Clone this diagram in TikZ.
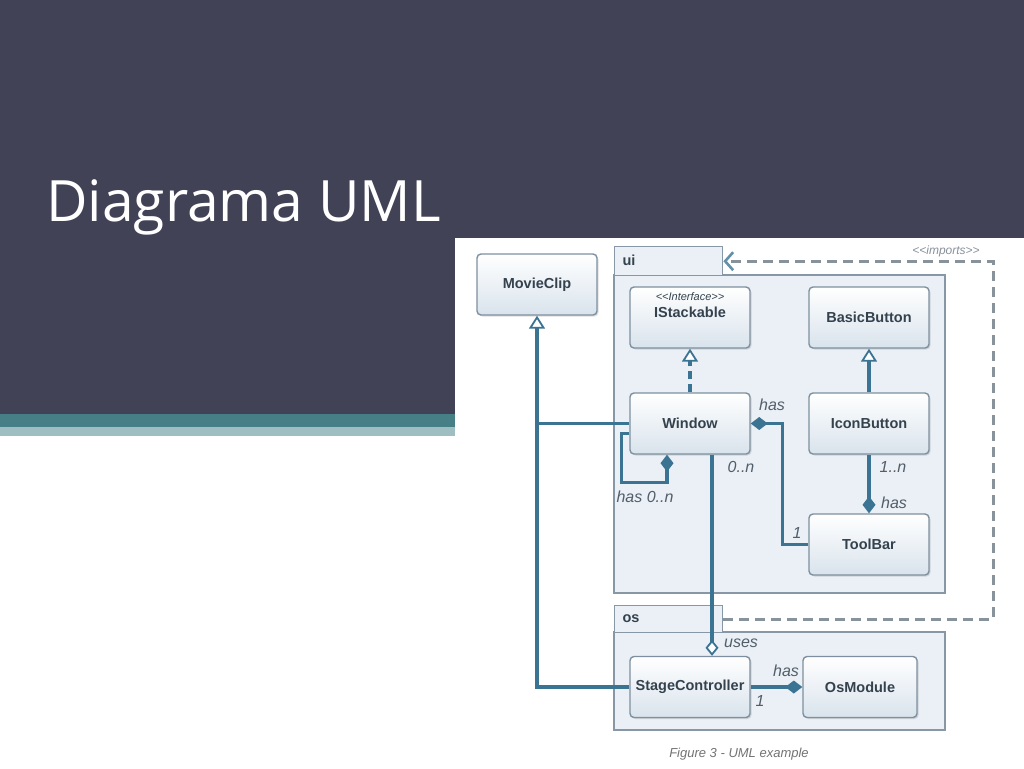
\documentclass[tikz,border=0pt]{standalone}
\usepackage{fontspec}
\setmainfont{Liberation Sans}
\newfontfamily\titlefont{Open Sans}
\usetikzlibrary{arrows.meta,shadows}
\definecolor{darkbg}{HTML}{424257}
\definecolor{tealA}{HTML}{477F87}
\definecolor{tealB}{HTML}{9FBEC1}
\definecolor{umlline}{HTML}{3B7393}
\definecolor{boxborder}{HTML}{7E90A0}
\definecolor{boxbot}{HTML}{D9E3EC}
\definecolor{pkgfill}{HTML}{EAF0F5}
\definecolor{pkgborder}{HTML}{8797A5}
\definecolor{txt}{HTML}{34424E}
\definecolor{deps}{HTML}{88929B}
\tikzset{
  cls/.style={draw=boxborder, line width=1.4pt, rounded corners=4pt,
    top color=white, bottom color=boxbot, minimum width=120pt, minimum height=61pt,
    font=\bfseries\fontsize{14.5}{16}\selectfont, text=txt,
    drop shadow={shadow xshift=1.5pt, shadow yshift=-1.5pt, opacity=0.25}},
  pkg/.style={draw=pkgborder, line width=1.4pt, fill=pkgfill},
  umlconn/.style={draw=umlline, line width=3.2pt},
  opentri/.style={-{Triangle[open, length=13pt, width=16pt, line width=1.8pt, fill=white]}},
  gen/.style={umlconn, opentri},
  compo/.style={umlconn, -{Diamond[length=17pt, width=13pt]}},
  aggr/.style={umlconn, -{Diamond[open, length=16pt, width=13pt, line width=1.8pt, fill=white]}},
  lbl/.style={font=\itshape\fontsize{16}{18}\selectfont, text=txt!85},
  dep/.style={draw=deps, line width=3pt, dash pattern=on 10pt off 6pt},
}
\begin{document}
\begin{tikzpicture}[x=1pt,y=-1pt]
\useasboundingbox (0,0) rectangle (1024,768);
% background
\fill[white] (0,0) rectangle (1024,768);
\fill[darkbg] (0,0) rectangle (1024,238);
\fill[darkbg] (0,238) rectangle (455,414);
\fill[tealA] (0,414) rectangle (455,427);
\fill[tealB] (0,427) rectangle (455,436);
\node[anchor=base west, text=white, font=\titlefont\fontsize{57}{66}\selectfont, inner sep=0] (title) at (46,221) {Diagrama UML};

% packages
\draw[pkg] (614,275) rectangle (945,593);
\node[pkg, anchor=north west, minimum width=108pt, minimum height=29pt, inner sep=0] (uitab) at (614,246) {};
\node[anchor=west, font=\bfseries\fontsize{14.5}{16}\selectfont, text=txt] (uilbl) at (619,260.5) {ui};
\draw[pkg] (614,632) rectangle (945,730);
\node[pkg, anchor=north west, minimum width=108pt, minimum height=27pt, inner sep=0] (ostab) at (614,605) {};
\node[anchor=west, font=\bfseries\fontsize{14.5}{16}\selectfont, text=txt] (oslbl) at (619,618.5) {os};

% classes
\node[cls] (mc) at (537,284.5) {MovieClip};
\node[cls, align=center] (ist) at (690,317.5) {{\fontsize{11}{12}\mdseries\itshape {<}{<}Interface{>}{>}}\\[1pt]IStackable\\[8pt]};
\node[cls] (bb) at (869,317.5) {BasicButton};
\node[cls] (win) at (690,423.5) {Window};
\node[cls] (ib) at (869,423.5) {IconButton};
\node[cls] (tb) at (869,544.5) {ToolBar};
\node[cls] (sc) at (690,687) {StageController};
\node[cls, minimum width=114pt] (osm) at (860,687) {OsModule};

% dependency imports
\draw[dep, -{Straight Barb[length=8pt, width=18pt, line width=2.6pt, umlline!80]}] (ostab.east) -- ++(270,0) |- (uitab.east);
\node[font=\itshape\fontsize{12}{14}\selectfont, text=deps] (implbl) at (946,251) {{<}{<}imports{>}{>}};

% connectors
\draw[umlconn] (win.west) -- (mc.south |- win.west);
\draw[gen] (sc.west) -| (mc.south);
\draw[umlconn, dash pattern=on 8pt off 5pt, opentri] (win.north) -- (ist.south);
\draw[gen] (ib.north) -- (bb.south);
\draw[compo] (ib.south) -- (tb.north);
\draw[compo] (tb.west) -- ++(-26,0) |- (win.east);
\draw[compo] ([yshift=-10pt]win.west) -- ++(-8,0) -- ++(0,49) -| ([xshift=-23pt]win.south);
\draw[aggr] ([xshift=22pt]win.south) -- ([xshift=22pt]sc.north);
\draw[compo] (sc.east) -- (osm.west);

% labels
\node[lbl] (l1) at (772,405) {has};
\node[lbl] (l2) at (741,467) {0..n};
\node[lbl] (l3) at (797,533) {1};
\node[lbl] (l4) at (893,467) {1..n};
\node[lbl] (l5) at (894,503) {has};
\node[lbl] (l6) at (645,497) {has 0..n};
\node[lbl] (l7) at (741,643) {uses};
\node[lbl] (l8) at (786,671) {has};
\node[lbl] (l9) at (760,701) {1};
\node[font=\itshape\fontsize{13}{15}\selectfont, text=black!55] (cap) at (739,754) {Figure 3 - UML example};
\end{tikzpicture}
\end{document}
